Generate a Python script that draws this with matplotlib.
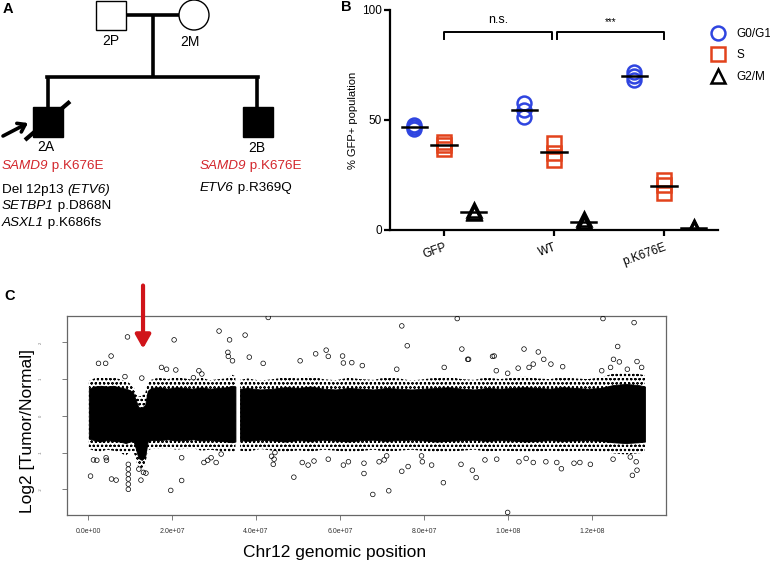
import numpy as np
import matplotlib
matplotlib.use('Agg')
import matplotlib.pyplot as plt
from matplotlib.patches import Rectangle, Circle
from matplotlib.lines import Line2D

plt.rcParams['font.family'] = ['Liberation Sans', 'DejaVu Sans']
plt.rcParams['hatch.linewidth'] = 0.5

# ---- panel A: pedigree ----
members = ['2P', '2M', '2A', '2B']
# (text, italic) parts
shared_variant = [('SAMD9', True), (' p.K676E', False)]
variants_2a = [[('Del 12p13 ', False), ('(ETV6)', True)],
               [('SETBP1', True), (' p.D868N', False)],
               [('ASXL1', True), (' p.K686fs', False)]]
variants_2b = [[('ETV6', True), (' p.R369Q', False)]]

# ---- panel B: cell cycle, % GFP+ population ----
groups = ['GFP', 'WT', 'p.K676E']
phases = ['G0/G1', 'S', 'G2/M']
g0g1 = [[45.9, 46.8, 47.6], [51.5, 54.5, 57.5], [68.3, 70.0, 71.8]]
s_phase = [[37.0, 38.5, 40.0], [32.0, 35.0, 39.5], [17.0, 20.5, 22.5]]
g2m = [[7.5, 8.0, 9.0], [2.5, 4.0, 5.0], [0.5, 1.0, 1.5]]
sig_labels = ['n.s.', '***']

# ---- panel C: chr12 log2 ratio (Mb, log2) ----
# dense band: outer (sparse) and core (solid) edges per chromosome arm
left_pos = [0.2, 1.5, 3, 4.5, 6, 7.5, 9, 10, 10.8, 11.4, 12.0, 12.8, 13.6, 14.2, 15, 17, 19, 21,
            23, 25, 27, 29, 31, 33, 34.3, 35.1]
left_top = [0.95, 1.02, 1.05, 1.03, 1.05, 1.0, 0.95, 0.88, 0.82, 0.62, 0.52, 0.55, 0.6, 0.9, 0.98,
            1.05, 1.0, 1.06, 1.02, 0.98, 1.04, 0.97, 1.0, 1.02, 1.12, 1.08]
left_core_top = [0.74, 0.8, 0.82, 0.8, 0.82, 0.78, 0.74, 0.7, 0.62, 0.42, 0.24, 0.22, 0.3, 0.68,
                 0.76, 0.78, 0.74, 0.78, 0.76, 0.74, 0.78, 0.74, 0.76, 0.78, 0.82, 0.8]
left_core_bot = [-0.62, -0.66, -0.7, -0.66, -0.68, -0.7, -0.74, -0.7, -0.68, -0.9, -1.15, -1.2,
                 -1.12, -0.7, -0.66, -0.66, -0.64, -0.67, -0.66, -0.64, -0.67, -0.66, -0.68, -0.7,
                 -0.72, -0.7]
left_bot = [-0.9, -0.95, -0.98, -0.92, -0.95, -1.0, -1.08, -0.98, -0.95, -1.2, -1.4, -1.42, -1.35,
            -0.95, -0.9, -0.9, -0.88, -0.92, -0.9, -0.88, -0.95, -0.92, -0.95, -0.98, -1.0, -0.95]

right_pos = [36.2, 38, 41, 44, 47, 50, 53, 56, 59, 62, 65, 68, 71, 74, 77, 80, 83, 86, 89, 92, 95,
             98, 101, 104, 107, 110, 113, 116, 119, 122, 125, 128, 131, 132.6]
right_top = [0.98, 1.02, 0.96, 1.0, 1.05, 1.02, 1.08, 1.0, 0.97, 1.04, 1.0, 0.98, 1.05, 1.02, 0.96,
             1.0, 1.04, 1.06, 1.0, 0.98, 1.05, 1.0, 1.04, 1.08, 1.02, 1.0, 1.06, 1.02, 1.0, 1.05,
             1.15, 1.18, 1.15, 1.1]
right_core_top = [0.74, 0.76, 0.72, 0.74, 0.78, 0.76, 0.8, 0.74, 0.72, 0.76, 0.74, 0.72, 0.76, 0.74,
                  0.72, 0.74, 0.76, 0.78, 0.74, 0.72, 0.76, 0.74, 0.76, 0.78, 0.76, 0.74, 0.78, 0.76,
                  0.74, 0.76, 0.84, 0.87, 0.84, 0.8]
right_core_bot = [-0.66, -0.68, -0.65, -0.67, -0.7, -0.66, -0.68, -0.65, -0.67, -0.7, -0.66, -0.65,
                  -0.68, -0.66, -0.65, -0.67, -0.7, -0.68, -0.66, -0.65, -0.68, -0.66, -0.67, -0.7,
                  -0.68, -0.66, -0.68, -0.67, -0.66, -0.68, -0.72, -0.74, -0.72, -0.7]
right_bot = [-0.95, -0.98, -0.9, -0.95, -1.0, -0.94, -0.98, -0.92, -0.95, -1.0, -0.96, -0.92, -0.98,
             -0.95, -0.92, -0.96, -1.0, -0.98, -0.95, -0.92, -0.98, -0.95, -0.96, -1.0, -0.98, -0.95,
             -0.98, -0.96, -0.95, -0.98, -1.02, -1.05, -1.02, -1.0]

outlier_pos = [0.6, 9.4, 20.5, 2.5, 4.2, 5.5, 1.3, 2.1, 5.6, 6.7, 9.6, 9.6, 9.6, 9.6, 9.6, 9.6,
               12.6, 13.2, 13.8, 12.1, 12.8, 19.7, 22.3, 31.2, 33.7, 33.3, 33.4, 34.4, 37.4, 38.4,
               41.7, 42.9, 27.6, 28.5, 29.3, 30.5, 31.7, 17.5, 18.7, 20.9, 8.8, 25.1, 26.4, 27.1,
               22.3, 4.3, 4.4,
               74.7, 87.9, 76.0, 89.0, 90.4, 54.2, 56.7, 50.5, 60.6, 62.8, 65.3, 73.5, 84.8, 49.0,
               65.7, 67.8, 71.6, 84.6, 74.7, 76.2, 44.1, 44.3, 44.5, 51.0, 52.4, 53.8, 57.2, 60.8,
               62.0, 65.7, 69.3, 70.5, 71.1, 79.4, 79.6, 81.8, 88.8, 60.8, 57.2, 43.7,
               122.6, 130.0, 126.1, 103.8, 107.2, 96.3, 96.7, 90.6, 108.5, 125.1, 126.5, 130.7,
               99.9, 92.4, 91.5, 129.6, 130.7, 102.6, 104.3, 106.0, 109.0, 111.6, 112.7, 115.7,
               117.1, 119.6, 125.0, 129.1, 130.5, 94.5, 97.3, 97.2, 99.9, 102.4, 105.0, 106.0,
               110.2, 113.0, 122.3, 124.4, 128.4, 131.8]
outlier_val = [-1.64, 2.15, 2.07, 1.43, 1.43, 1.63, -1.2, -1.21, -1.72, -1.75, -1.32, -1.45, -1.59,
               -1.72, -1.86, -2.0, -1.75, -1.54, -1.56, -1.45, 1.03, -2.03, -1.76, 2.31, 2.07, 1.73,
               1.62, 1.5, 2.2, 1.6, 1.43, 2.68, -1.27, -1.21, -1.14, -1.27, -1.04, 1.32, 1.27, 1.25,
               1.07, 1.04, 1.23, 1.14, -1.14, -1.14, -1.21,
               2.45, 2.65, 1.91, 1.82, 1.54, 1.69, 1.79, 1.5, 1.63, 1.45, 1.37, 1.27, 1.32, -1.67,
               -1.57, -2.14, -2.04, -1.82, -1.51, -1.38, -1.32, -1.18, -1.0, -1.27, -1.34, -1.23,
               -1.18, -1.34, -1.25, -1.29, -1.25, -1.2, -1.09, -1.09, -1.25, -1.34, -1.32, 1.44,
               1.62, -1.1,
               2.65, 2.54, 1.89, 1.82, 1.74, 1.62, 1.63, 1.54, 1.54, 1.54, 1.47, 1.48, -2.63, -1.68,
               -1.48, -1.62, -1.48, -1.25, -1.16, -1.27, -1.25, -1.27, -1.44, -1.29, -1.27, -1.32,
               -1.18, -1.12, -1.25, -1.2, -1.18, 1.23, 1.16, 1.3, 1.32, 1.41, 1.41, 1.34, 1.23, 1.32,
               1.27, 1.32]
deletion_pos = 13.1
pos_ticks = [0, 2e7, 4e7, 6e7, 8e7, 1e8, 1.2e8]
log2_ticks = [-2, -1, 0, 1, 2]

fig = plt.figure(figsize=(7.7, 5.61), dpi=100)
renderer = fig.canvas.get_renderer()

# overlay in pixel units for the pedigree and panel letters
ax_a = fig.add_axes([0, 0, 1, 1])
ax_a.set_xlim(0, 770)
ax_a.set_ylim(561, 0)
ax_a.axis('off')


def rich_text(x, y, parts, color='black', fs=9.7):
    # draw italic / upright pieces one after the other
    for s, italic in parts:
        t = ax_a.text(x, y, s, fontsize=fs, color=color, va='center', ha='left',
                      style='italic' if italic else 'normal')
        x += t.get_window_extent(renderer=renderer).width


lw_ped = 2.6
ax_a.add_patch(Rectangle((96, 0.5), 30, 29.5, fc='white', ec='black', lw=1.0))
ax_a.add_patch(Circle((194, 15), 15, fc='white', ec='black', lw=1.0))
ax_a.plot([126, 179], [15, 15], color='black', lw=lw_ped, solid_capstyle='butt')
ax_a.plot([153, 153], [15, 77], color='black', lw=lw_ped, solid_capstyle='butt')
ax_a.plot([47, 258], [77, 77], color='black', lw=lw_ped, solid_capstyle='projecting')
ax_a.plot([48, 48], [77, 107], color='black', lw=lw_ped, solid_capstyle='butt')
ax_a.plot([257, 257], [77, 107], color='black', lw=lw_ped, solid_capstyle='butt')
ax_a.add_patch(Rectangle((33, 107), 30, 30, fc='black', ec='black', lw=1.0))
ax_a.add_patch(Rectangle((242.5, 107), 30, 30, fc='black', ec='black', lw=1.0))
ax_a.plot([25, 70], [140, 101.5], color='black', lw=3.0, solid_capstyle='butt')
ax_a.annotate('', xy=(28, 123), xytext=(3, 136),
              arrowprops=dict(arrowstyle='->, head_length=0.5, head_width=0.35', lw=2.6,
                              color='black', shrinkA=0, shrinkB=0))
label_xy = [(111, 41), (190, 42), (46, 147), (257, 148)]
for name, (lx, ly) in zip(members, label_xy):
    ax_a.text(lx, ly, name, ha='center', va='center', fontsize=10)

red = '#d3262c'
rich_text(2, 166, shared_variant, color=red)
rich_text(200, 166, shared_variant, color=red)
for i, parts in enumerate(variants_2a):
    rich_text(2, 190 + 16.3 * i, parts)
for i, parts in enumerate(variants_2b):
    rich_text(200, 188 + 16.3 * i, parts)

for letter, (lx, ly) in zip(['A', 'B', 'C'], [(8, 9), (346, 7), (10, 296)]):
    ax_a.text(lx, ly, letter, fontsize=10.5, fontweight='bold', ha='center', va='center')

# ---- panel B ----
ax_b = fig.add_axes([390 / 770, 1 - 230 / 561, 328 / 770, 220 / 561])
x = np.arange(len(groups))
dodge = 0.27
styles = [('o', '#2f45e0', g0g1), ('s', '#e2431c', s_phase), ('^', 'black', g2m)]
handles = []
for k, (mk, col, vals) in enumerate(styles):
    xo = x + (k - 1) * dodge
    for gi in range(len(groups)):
        v = vals[gi]
        ax_b.plot([xo[gi]] * len(v), v, linestyle='none', marker=mk, ms=10,
                  mfc='none', mec=col, mew=1.8, zorder=3)
        m = np.mean(v)
        ax_b.plot([xo[gi] - 0.115, xo[gi] + 0.115], [m, m], color='black', lw=1.8, zorder=4)
    handles.append(Line2D([], [], linestyle='none', marker=mk, ms=10, mfc='none', mec=col,
                          mew=1.8, label=phases[k]))

# significance brackets
brk = [(0, 0.985), (1.03, 2)]
for (a, b), lab in zip(brk, sig_labels):
    ax_b.plot([a, a, b, b], [86.8, 89.9, 89.9, 86.8], color='black', lw=1.4, clip_on=False)
ax_b.text(0.49, 95.5, sig_labels[0], ha='center', va='center', fontsize=9)
ax_b.text(1.515, 94.5, sig_labels[1], ha='center', va='center', fontsize=7)

ax_b.set_xlim(-0.49, 2.49)
ax_b.set_ylim(0, 100)
ax_b.set_yticks([0, 50, 100])
ax_b.set_xticks(x)
ax_b.set_xticklabels(groups, rotation=20, ha='right', rotation_mode='anchor', fontsize=8.5)
ax_b.tick_params(axis='both', direction='out', length=4, width=1.6, labelsize=8.5, pad=2)
ax_b.tick_params(axis='x', pad=4)
for sp in ['top', 'right']:
    ax_b.spines[sp].set_visible(False)
for sp in ['left', 'bottom']:
    ax_b.spines[sp].set_linewidth(1.6)
ax_b.set_ylabel('% GFP+ population', fontsize=8, labelpad=3)
ax_b.legend(handles=handles, loc='upper left', bbox_to_anchor=(0.965, 0.94), frameon=False,
            fontsize=8.5, handletextpad=0.9, labelspacing=0.8, borderaxespad=0, handlelength=1.2)

# ---- panel C ----
ax_c = fig.add_axes([67 / 770, 1 - 515 / 561, 599 / 770, 199 / 561])
for pos, top, ctop, cbot, bot in [(left_pos, left_top, left_core_top, left_core_bot, left_bot),
                                  (right_pos, right_top, right_core_top, right_core_bot, right_bot)]:
    p = np.array(pos) * 1e6
    ax_c.fill_between(p, bot, top, facecolor='none', edgecolor='black', hatch='oooo',
                      linewidth=0, zorder=1)
    ax_c.fill_between(p, cbot, ctop, facecolor='black', edgecolor='black', linewidth=0.6, zorder=2)
ax_c.scatter(np.array(outlier_pos) * 1e6, outlier_val, s=11, facecolors='none',
             edgecolors='black', linewidths=0.5, zorder=3)

ax_c.annotate('', xy=(deletion_pos * 1e6, 1.83), xytext=(deletion_pos * 1e6, 3.55),
              annotation_clip=False,
              arrowprops=dict(arrowstyle='-|>, head_length=0.8, head_width=0.45', lw=3.0,
                              color='#d0141a', shrinkA=0, shrinkB=0))

ax_c.set_xlim(-5.0e6, 137.6e6)
ax_c.set_ylim(-2.70, 2.72)
ax_c.set_xticks(pos_ticks)
ax_c.set_xticklabels([f'{v:.1e}' for v in pos_ticks], fontsize=5, color='#333333')
ax_c.set_yticks(log2_ticks)
ax_c.set_yticklabels([str(v) for v in log2_ticks], fontsize=3, rotation=90, va='center',
                     color='#777777')
ax_c.tick_params(axis='both', length=3.5, width=0.6, color='#666666', pad=6)
ax_c.tick_params(axis='y', pad=14)
for sp in ax_c.spines.values():
    sp.set_color('#666666')
    sp.set_linewidth(0.9)

fig.text(335 / 770, 1 - 553 / 561, 'Chr12 genomic position', ha='center', va='center', fontsize=12.5)
fig.text(28 / 770, 1 - 431 / 561, 'Log2 [Tumor/Normal]', ha='center', va='center', fontsize=12.5,
         rotation=90)

fig.savefig('out.png', dpi=100)
